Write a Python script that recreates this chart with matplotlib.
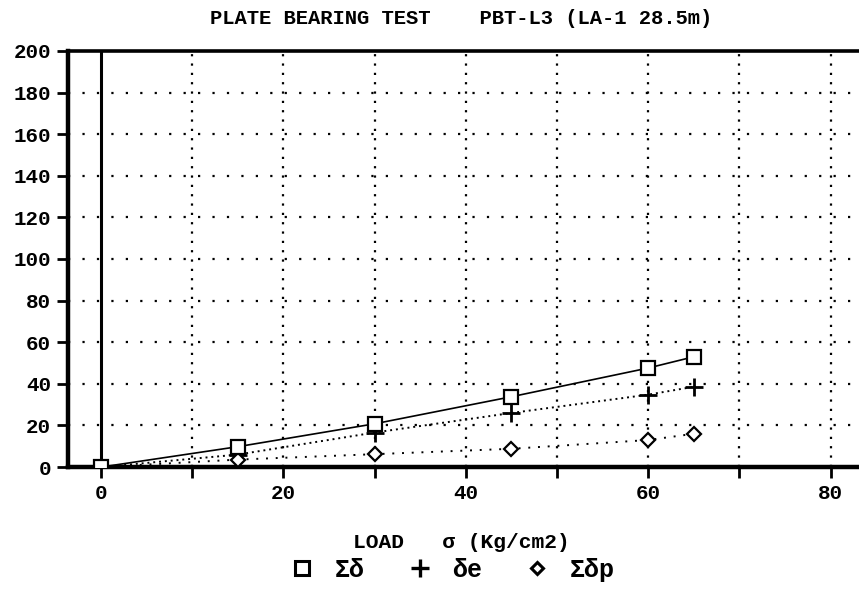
import matplotlib.pyplot as plt
from matplotlib.lines import Line2D

# 하중-침하 데이터
load = [0, 15, 30, 45, 60, 65]
sum_d = [0, 9.8, 20.8, 33.8, 47.6, 53.0]
d_e = [0, 6.0, 16.6, 26.0, 34.8, 38.6]
sum_dp = [0, 3.6, 6.2, 8.8, 13.0, 16.0]

series_labels = ['\u03a3\u03b4', '\u03b4e', '\u03a3\u03b4p']
x_ticks = list(range(0, 90, 10))
x_ticklabels = ['0', '', '20', '', '40', '', '60', '', '80']
y_ticks = list(range(0, 220, 20))

mono = ['Liberation Mono', 'DejaVu Sans Mono', 'DejaVu Sans']
plt.rcParams['font.family'] = mono

fig = plt.figure(figsize=(8.59, 5.92), dpi=100)
ax = fig.add_axes([0.079, 0.211, 0.925, 0.703])

ax.set_xlim(-3.63, 83.5)
ax.set_ylim(0, 200)

# 격자
for xv in x_ticks[1:]:
    ax.axvline(xv, color='black', lw=1.6, ls=(0, (1, 3.2)), zorder=1)
for yv in y_ticks[1:-1]:
    ax.axhline(yv, color='black', lw=1.6, ls=(0, (1, 5.5)), zorder=1)
ax.axvline(0, color='black', lw=2.2, zorder=2)

ax.plot(load, sum_d, color='black', lw=1.2, ls='-', marker='s', ms=10,
        mfc='white', mec='black', mew=1.6, zorder=5)
ax.plot(load, d_e, color='black', lw=1.4, ls=(0, (1, 2)), marker='+', ms=13,
        mew=2.0, zorder=4)
ax.plot(load, sum_dp, color='black', lw=1.4, ls=(0, (1, 4)), marker='D', ms=7.5,
        mfc='white', mec='black', mew=1.6, zorder=4)

ax.set_xticks(x_ticks)
ax.set_xticklabels(x_ticklabels)
ax.set_yticks(y_ticks)
ax.tick_params(axis='both', direction='out', length=8, width=2, labelsize=15, pad=4)
for lab in ax.get_xticklabels() + ax.get_yticklabels():
    lab.set_fontweight('bold')

for side in ['left', 'bottom']:
    ax.spines[side].set_linewidth(3.2)
ax.spines['top'].set_linewidth(2.6)
ax.spines['right'].set_visible(False)

fig.text(0.537, 0.968, 'PLATE BEARING TEST    PBT-L3 (LA-1 28.5m)',
         ha='center', va='center', fontsize=14.8, fontweight='bold')
fig.text(0.537, 0.083, 'LOAD   \u03c3 (Kg/cm2)', ha='center', va='center',
         fontsize=15.3, fontweight='bold')

handles = [
    Line2D([], [], ls='none', marker='s', ms=10, mfc='white', mec='black', mew=2.2),
    Line2D([], [], ls='none', marker='+', ms=13, mec='black', mew=2.4),
    Line2D([], [], ls='none', marker='D', ms=6.5, mfc='white', mec='black', mew=2.2),
]
fig.legend(handles, series_labels, loc='center', bbox_to_anchor=(0.528, 0.037),
           ncol=3, frameon=False, handlelength=0.8, handletextpad=0.9,
           columnspacing=1.8, prop={'family': mono, 'size': 18, 'weight': 'bold'})

plt.savefig('out.png', dpi=100)
